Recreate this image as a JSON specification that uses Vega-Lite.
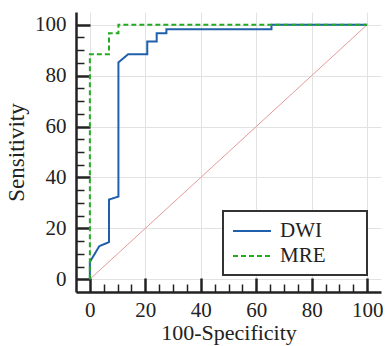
{
  "$schema": "https://vega.github.io/schema/vega-lite/v6.json",
  "width": 305,
  "height": 280,
  "autosize": {"type": "none"},
  "padding": {"left": 76, "top": 12, "right": 5, "bottom": 54},
  "background": "white",
  "config": {
    "view": {"stroke": null},
    "font": "Liberation Serif",
    "axis": {"labelFont": "Liberation Serif", "titleFont": "Liberation Serif", "labelColor": "#222", "titleColor": "#222", "titleFontWeight": "normal"}
  },
  "datasets": {
    "roc": [
      {"test": "DWI", "ord": 1, "fpr": 0, "tpr": 0},
      {"test": "DWI", "ord": 2, "fpr": 0, "tpr": 6.8},
      {"test": "DWI", "ord": 3, "fpr": 3.4, "tpr": 13.0},
      {"test": "DWI", "ord": 4, "fpr": 6.9, "tpr": 14.6},
      {"test": "DWI", "ord": 5, "fpr": 6.9, "tpr": 31.3},
      {"test": "DWI", "ord": 6, "fpr": 10.3, "tpr": 32.5},
      {"test": "DWI", "ord": 7, "fpr": 10.3, "tpr": 85.2},
      {"test": "DWI", "ord": 8, "fpr": 13.8, "tpr": 88.4},
      {"test": "DWI", "ord": 9, "fpr": 20.7, "tpr": 88.4},
      {"test": "DWI", "ord": 10, "fpr": 20.7, "tpr": 93.4},
      {"test": "DWI", "ord": 11, "fpr": 24.1, "tpr": 93.4},
      {"test": "DWI", "ord": 12, "fpr": 24.1, "tpr": 96.7},
      {"test": "DWI", "ord": 13, "fpr": 27.6, "tpr": 96.7},
      {"test": "DWI", "ord": 14, "fpr": 27.6, "tpr": 98.2},
      {"test": "DWI", "ord": 15, "fpr": 65.5, "tpr": 98.2},
      {"test": "DWI", "ord": 16, "fpr": 65.5, "tpr": 100},
      {"test": "DWI", "ord": 17, "fpr": 100, "tpr": 100},
      {"test": "MRE", "ord": 1, "fpr": 0, "tpr": 0},
      {"test": "MRE", "ord": 2, "fpr": 0, "tpr": 88.4},
      {"test": "MRE", "ord": 3, "fpr": 6.9, "tpr": 88.4},
      {"test": "MRE", "ord": 4, "fpr": 6.9, "tpr": 96.7},
      {"test": "MRE", "ord": 5, "fpr": 10.3, "tpr": 96.7},
      {"test": "MRE", "ord": 6, "fpr": 10.3, "tpr": 100},
      {"test": "MRE", "ord": 7, "fpr": 100, "tpr": 100}
    ],
    "diag": [
      {"fpr": 0, "tpr": 0},
      {"fpr": 100, "tpr": 100}
    ]
  },
  "layer": [
    {
      "data": {"name": "diag"},
      "mark": {"type": "line", "color": "#e59a9a", "strokeWidth": 1},
      "encoding": {
        "x": {"field": "fpr", "type": "quantitative", "scale": {"domain": [-5, 105], "nice": false, "zero": false},
          "axis": {"orient": "bottom", "values": [5, 10, 15, 25, 30, 35, 45, 50, 55, 65, 70, 75, 85, 90, 95], "labels": false, "grid": false, "domain": false, "tickSize": -8, "tickWidth": 1.5, "tickColor": "#222", "title": null}},
        "y": {"field": "tpr", "type": "quantitative", "scale": {"domain": [-5, 105], "nice": false, "zero": false},
          "axis": {"orient": "left", "values": [5, 10, 15, 25, 30, 35, 45, 50, 55, 65, 70, 75, 85, 90, 95], "labels": false, "grid": false, "domain": false, "tickSize": -8, "tickWidth": 1.5, "tickColor": "#222", "title": null}}
      }
    },
    {
      "data": {"name": "roc"},
      "mark": {"type": "line", "strokeWidth": 2, "interpolate": "linear"},
      "encoding": {
        "x": {"field": "fpr", "type": "quantitative",
          "axis": {"orient": "bottom", "values": [0, 20, 40, 60, 80, 100], "title": "100-Specificity", "titleFontSize": 22, "labelFontSize": 21, "tickSize": -14, "tickWidth": 2.5, "tickColor": "#222", "domainColor": "#222", "domainWidth": 2.5, "labelPadding": 21, "titlePadding": 2, "grid": true, "gridColor": "#e2e2e2", "gridWidth": 1}},
        "y": {"field": "tpr", "type": "quantitative",
          "axis": {"orient": "left", "values": [0, 20, 40, 60, 80, 100], "title": "Sensitivity", "titleFontSize": 23, "labelFontSize": 21, "tickSize": -14, "tickWidth": 2.5, "tickColor": "#222", "domainColor": "#222", "domainWidth": 2.5, "labelPadding": 24, "titlePadding": 6, "grid": true, "gridColor": "#e2e2e2", "gridWidth": 1}},
        "order": {"field": "ord", "type": "quantitative"},
        "color": {"field": "test", "type": "nominal", "title": null,
          "scale": {"domain": ["DWI", "MRE"], "range": ["#2060aa", "#22aa22"]},
          "legend": {"orient": "none", "legendX": 147, "legendY": 199, "direction": "vertical", "fillColor": "white", "strokeColor": "#333", "padding": 9, "symbolType": "M-1,0H2.8M11.1,0", "symbolSize": 400, "symbolStrokeWidth": 2, "labelFont": "Liberation Serif", "labelFontSize": 21, "labelColor": "#222", "labelOffset": 26, "rowPadding": 4,
            "encode": {"legend": {"update": {"strokeWidth": {"value": 2}}}}}},
        "strokeDash": {"field": "test", "type": "nominal", "title": null,
          "scale": {"domain": ["DWI", "MRE"], "range": [[1, 0], [5, 3]]}}
      }
    }
  ],
  "resolve": {"axis": {"x": "independent", "y": "independent"}}
}
